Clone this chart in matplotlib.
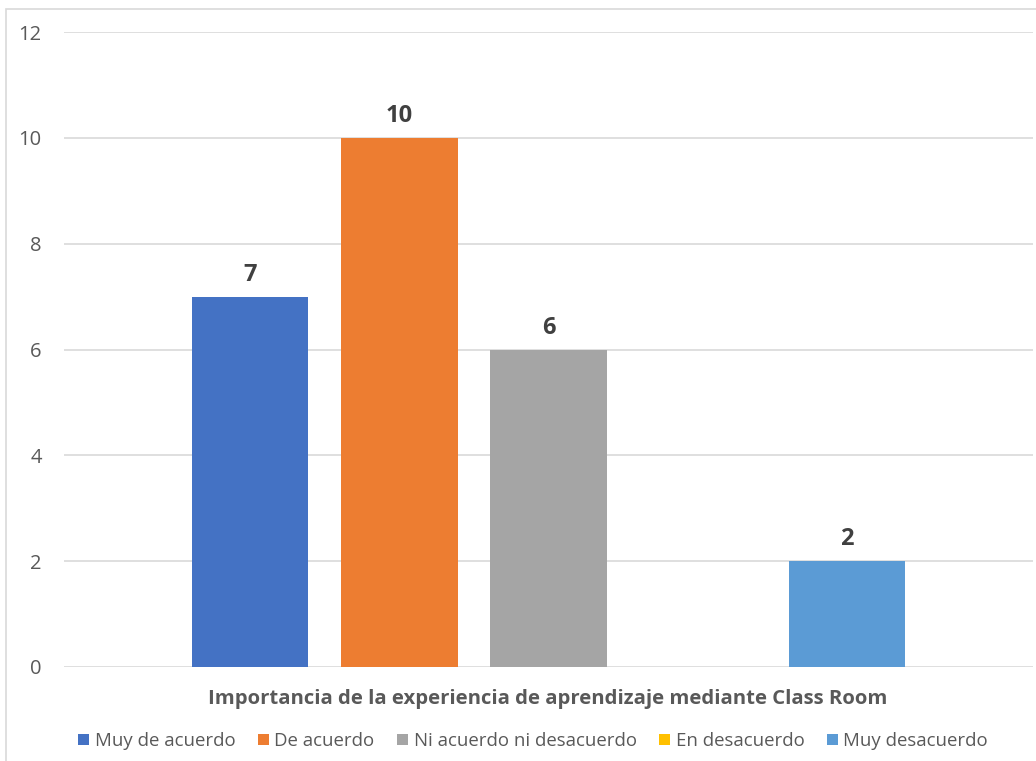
import matplotlib.pyplot as plt
from matplotlib.patches import Rectangle, Patch

categories = ['Muy de acuerdo', 'De acuerdo', 'Ni acuerdo ni desacuerdo', 'En desacuerdo', 'Muy desacuerdo']
values = [7, 10, 6, 0, 2]
colors = ['#4472C4', '#ED7D31', '#A5A5A5', '#FFC000', '#5B9BD5']
title = 'Importancia de la experiencia de aprendizaje mediante Class Room'
yticks = [0, 2, 4, 6, 8, 10, 12]

plt.rcParams['font.family'] = ['Open Sans', 'DejaVu Sans']

W, H = 1036, 761
fig = plt.figure(figsize=(W / 100, H / 100), dpi=100)

# outer chart border (cut off on right/bottom in the reference)
fig.patches.append(Rectangle((6 / W, -0.1), 1.2, 1 - 9 / H + 0.1, transform=fig.transFigure,
                             fill=False, edgecolor='#d9d9d9', linewidth=1.2))

ax = fig.add_axes([64 / W, (H - 667) / H, 969 / W, (667 - 32) / H])
x = list(range(len(values)))
bars = ax.bar(x, values, width=0.78, color=colors, zorder=3)

ax.set_xlim(-1.25, 5.25)
ax.set_ylim(0, 12)
ax.set_yticks(yticks)
ax.set_yticklabels([str(t) for t in yticks], fontsize=14.5, color='#595959')
ax.tick_params(axis='y', length=0, pad=16)
ax.set_xticks([])
ax.grid(axis='y', color='#d9d9d9', linewidth=1.2, zorder=0)
for s in ax.spines.values():
    s.set_visible(False)

for b, v in zip(bars, values):
    if v > 0:
        ax.annotate(str(v), (b.get_x() + b.get_width() / 2, v), xytext=(0, 7),
                    textcoords='offset points', ha='center', va='bottom',
                    fontsize=17, fontweight='bold', color='#404040')

fig.text(548 / W, 1 - 699 / H, title, ha='center', va='center',
         fontsize=14.6, fontweight='bold', color='#595959')

handles = [Patch(facecolor=c, edgecolor='none') for c in colors]
fig.legend(handles, categories, loc='center', bbox_to_anchor=(533 / W, 1 - 741 / H),
           ncol=5, frameon=False, fontsize=13.4, labelcolor='#595959',
           handlelength=0.6, handleheight=0.6, handletextpad=0.3, columnspacing=1.2)

fig.savefig('out.png', dpi=100, facecolor='white')
